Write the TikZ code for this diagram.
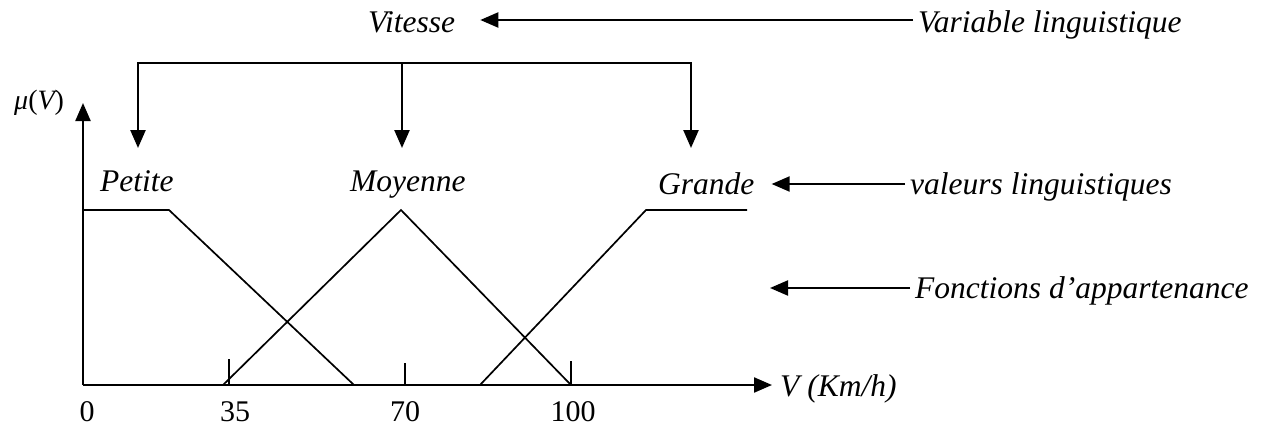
\documentclass[tikz,border=0pt]{standalone}
\usepackage{fontspec}
\setmainfont{Liberation Serif}
\usetikzlibrary{arrows.meta}
\begin{document}
\begin{tikzpicture}[x=1pt,y=-1pt,
  lab/.style={font=\fontsize{31.5}{36}\selectfont\itshape, inner sep=0pt, anchor=base west},
  num/.style={font=\fontsize{30}{36}\selectfont, inner sep=0pt, anchor=base},
  mf/.style={line width=1.7pt},
  tickline/.style={line width=2.2pt},
  arr/.style={line width=2.1pt, -{Triangle[length=18pt,width=15pt]}},
]
\useasboundingbox (0,0) rectangle (1262,428);

% labels
\node[lab, font=\fontsize{28}{34}\selectfont\itshape] (mu) at (14,110) {μ{\upshape(}V{\upshape)}};
\node[lab] (vit) at (368,33) {Vitesse};
\node[lab] (var) at (918,33) {Variable linguistique};
\node[lab] (pet) at (100,191) {Petite};
\node[lab] (moy) at (350,191) {Moyenne};
\node[lab] (gra) at (658,194) {Grande};
\node[lab] (val) at (910,194) {valeurs linguistiques};
\node[lab] (fon) at (915,298) {Fonctions d’appartenance};
\node[lab] (vkm) at (780,396) {V (Km/h)};
\node[num] (n0) at (87,421) {0};
\node[num] (n35) at (235,421) {35};
\node[num] (n70) at (405,421) {70};
\node[num] (n100) at (573,421) {100};

% axes
\coordinate (O) at (83,385);
\coordinate (Ytip) at (83,103);
\draw[arr, line width=2.2pt] (O) -- (Ytip);
\draw[arr, line width=2.2pt] (O) -- ([xshift=-8pt]vkm.west |- O);

% ticks
\coordinate (t35) at (229,385);
\coordinate (t70) at (405,385);
\coordinate (t100) at (571,385);
\draw[tickline] (t35) -- ++(0,-26);
\draw[tickline] (t70) -- ++(0,-22);
\draw[tickline] (t100) -- ++(0,-24);

% membership functions
\coordinate (pA) at (83,210);
\coordinate (pB) at (169,210);
\coordinate (pC) at (354,385);
\coordinate (mA) at (223,385);
\coordinate (mB) at (401,210);
\coordinate (mC) at (571,385);
\coordinate (gA) at (480,385);
\coordinate (gB) at (646,210);
\coordinate (gC) at (747,210);
\draw[mf] (pA) -- (pB) -- (pC);
\draw[mf] (mA) -- (mB) -- (mC);
\draw[mf] (gA) -- (gB) -- (gC);

% bracket from the linguistic variable to its values
\coordinate (bM) at (402,63);
\coordinate (tipL) at (138,148);
\coordinate (tipM) at (402,148);
\coordinate (tipR) at (691,148);
\draw[arr, line width=2.4pt] (bM) -| (tipL);
\draw[arr, line width=2.4pt] (bM) -| (tipR);
\draw[arr, line width=2.4pt] (bM) -- (tipM);

% annotation arrows
\draw[arr] ([shift={(-5,-13)}]var.base west) -- ([shift={(25,-13)}]vit.base east);
\draw[arr] ([shift={(-5,-10)}]val.base west) -- ([shift={(17,-10)}]gra.base east);
\coordinate (fonTip) at (770,288);
\draw[arr] ([shift={(-5,-10)}]fon.base west) -- (fonTip);
\end{tikzpicture}
\end{document}
